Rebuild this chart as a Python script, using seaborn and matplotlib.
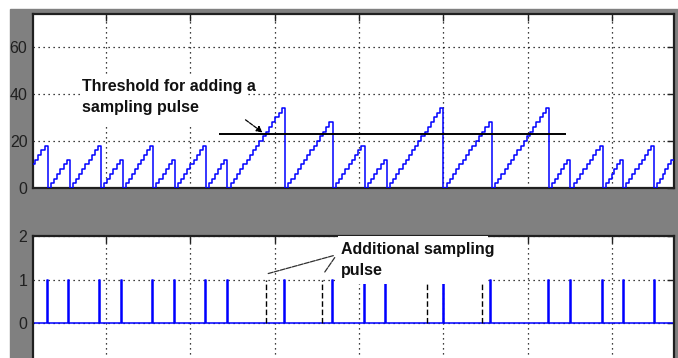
import numpy as np
import pandas as pd
import matplotlib
matplotlib.use("Agg")
import matplotlib.pyplot as plt
from matplotlib.patches import Rectangle
import seaborn as sns

# ---- values (x in sample index) ----
ramp_starts = [-1.5, 7.7, 14.3, 23.5, 30.0, 39.0, 45.5, 54.6, 61.0, 78.1,
               92.2, 101.7, 108.3, 125.0, 139.4, 156.4, 162.7, 172.3, 178.3, 187.5]
ramp_peaks = [18, 12, 18, 12, 18, 12, 18, 12, 34, 28,
              18, 12, 34, 28, 34, 12, 18, 12, 18, 12]
counter_step = 2
threshold = 23
threshold_span = [58.6, 161.3]

pulse_times = [7.4, 13.8, 22.9, 29.4, 38.7, 45.2, 54.4, 60.8, 77.8, 92.1,
               101.4, 107.8, 124.9, 138.9, 156.0, 162.5, 172.1, 178.3, 187.4]
extra_pulse_times = [72.3, 88.9, 120.2, 136.6]
pulse_width = 0.3

x_range = [3.36, 193.4]
grid_x = [25, 50, 75, 100, 125, 150, 175]
top_yticks = [0, 20, 40, 60]
bottom_yticks = [-1, 0, 1, 2]

BLUE = "#0000ff"
GREY = "#808080"
FONT = ["Liberation Sans", "DejaVu Sans"]


def counter_trace(starts, peaks, t_end):
    ends = starts[1:] + [t_end]
    ts, vs = [], []
    for t0, t1, p in zip(starts, ends, peaks):
        n = int(p / counter_step)
        d = (t1 - t0) / (n + 1)
        for j in range(n + 1):
            ts += [t0 + j * d, t0 + (j + 1) * d]
            vs += [j * counter_step, j * counter_step]
    return pd.DataFrame({"t": ts, "v": vs})


def pulse_trace(times, width, t0, t1):
    ts, vs = [t0], [0]
    for t in times:
        ts += [t, t, t + width, t + width]
        vs += [0, 1, 1, 0]
    ts.append(t1)
    vs.append(0)
    return pd.DataFrame({"t": ts, "v": vs})


def style_axes(ax, yticks, ylim):
    ax.set_xlim(*x_range)
    ax.set_ylim(*ylim)
    ax.set_xticks(grid_x)
    ax.set_xticklabels([])
    ax.set_yticks(yticks)
    ax.set_yticklabels([str(v) for v in yticks], family=FONT, fontsize=11.5)
    ax.tick_params(direction="in", length=5, width=1, top=True, right=True,
                   pad=4, colors="#202020")
    ax.grid(True, color="black", linestyle=(0, (1, 3)), linewidth=0.9)
    ax.set_xlabel("")
    ax.set_ylabel("")
    for s in ax.spines.values():
        s.set_color("#202020")
        s.set_linewidth(1.6)
    ax.set_facecolor("white")


sns.set_style("white")
plt.rcParams["font.family"] = FONT

fig = plt.figure(figsize=(6.78, 3.58), dpi=100)
fig.patches.append(Rectangle((10 / 678, 0), 668 / 678, 349 / 358,
                             transform=fig.transFigure, color=GREY, zorder=-10))

ax1 = fig.add_axes([33 / 678, 1 - 188 / 358, 641 / 678, 174 / 358])
ax2 = fig.add_axes([33 / 678, 1 - 366.5 / 358, 641 / 678, 130.5 / 358])

# ---- top: counter sawtooth ----
saw = counter_trace(ramp_starts, ramp_peaks, x_range[1])
sns.lineplot(data=saw, x="t", y="v", ax=ax1, color=BLUE, linewidth=1.1,
             estimator=None, sort=False, zorder=3)
ax1.hlines(threshold, *threshold_span, color="black", linewidth=1.4, zorder=4)
style_axes(ax1, top_yticks, (0, 74))

ax1.add_patch(Rectangle((17.3, 26.8), 49.2, 21.3, facecolor="white",
                        edgecolor="none", zorder=2))
ax1.text(17.8, 46.5, "Threshold for adding a\nsampling pulse", family=FONT,
         fontweight="bold", fontsize=11.5, va="top", ha="left",
         linespacing=1.55, color="#111111", zorder=5)
ax1.annotate("", xy=(72.1, 22.9), xytext=(65.7, 29.7),
             arrowprops=dict(arrowstyle="-|>", color="black", lw=0.9,
                             linestyle=(0, (3, 1)), mutation_scale=9),
             zorder=5)

# ---- bottom: sampling pulses ----
pulses = pulse_trace(pulse_times, pulse_width, x_range[0], x_range[1])
sns.lineplot(data=pulses, x="t", y="v", ax=ax2, color=BLUE, linewidth=1.1,
             estimator=None, sort=False, zorder=2)
ax2.vlines(extra_pulse_times, 0, 1, color="black", linewidth=1.0,
           linestyles=(0, (4, 2)), zorder=2)
style_axes(ax2, bottom_yticks, (-1, 2))

ax2.add_patch(Rectangle((93.8, 0.9), 44.5, 1.1, facecolor="white",
                        edgecolor="none", zorder=3))
ax2.text(94.7, 1.87, "Additional sampling\npulse", family=FONT,
         fontweight="bold", fontsize=11.5, va="top", ha="left",
         linespacing=1.55, color="#111111", zorder=5)
for x0 in (extra_pulse_times[0], 89.4):
    ax2.annotate("", xy=(93.4, 1.57), xytext=(x0, 1.12),
                 arrowprops=dict(arrowstyle="-", color="#303030", lw=0.9,
                                 linestyle=(0, (4, 1))), zorder=5)

fig.savefig("out.png", dpi=100)
